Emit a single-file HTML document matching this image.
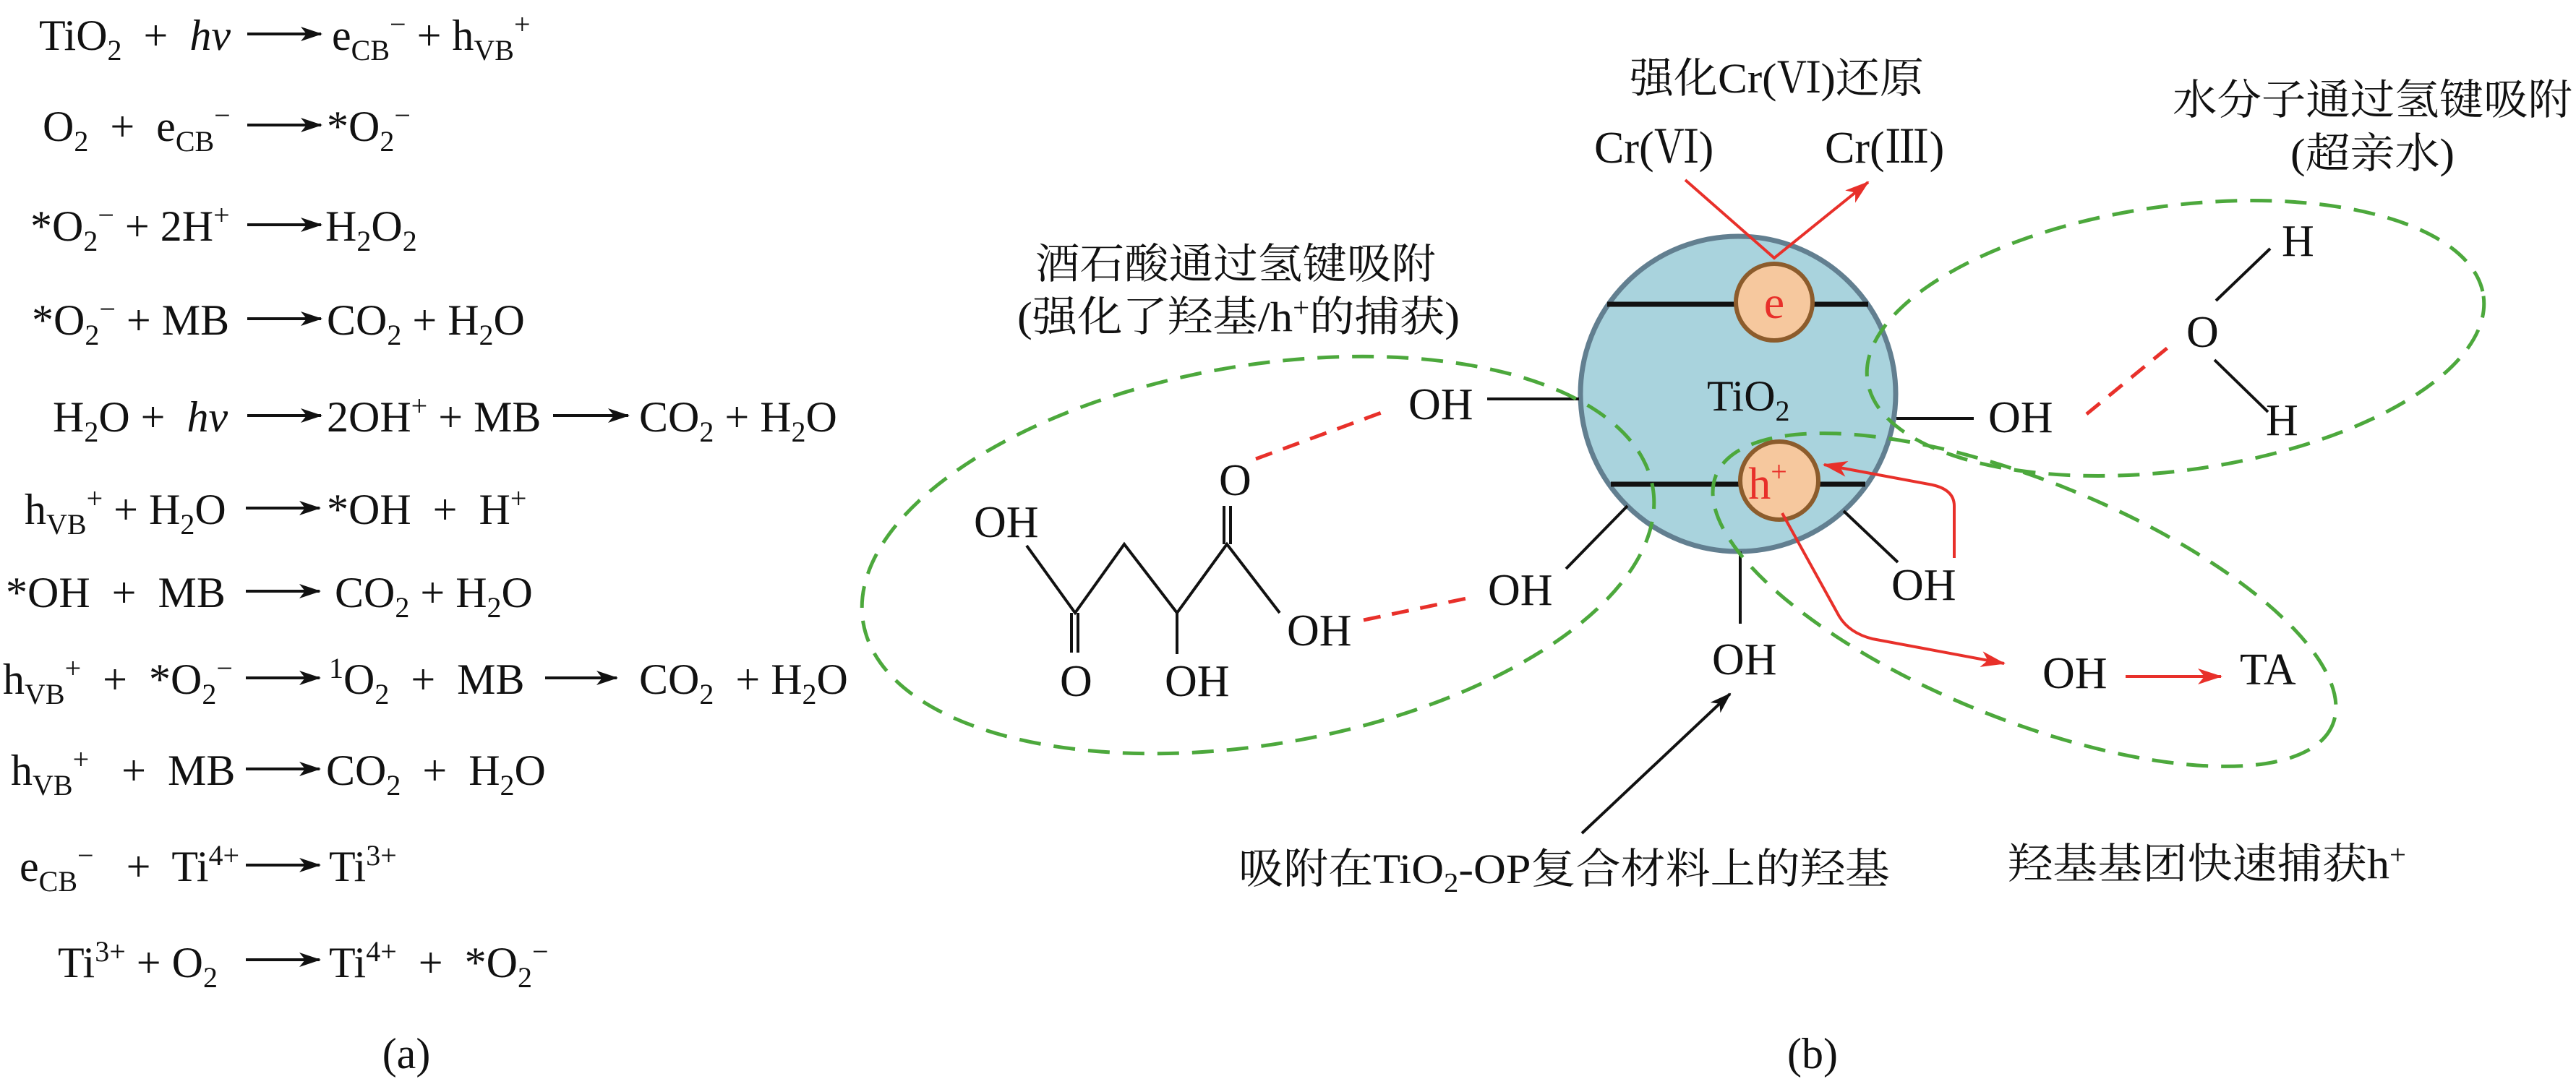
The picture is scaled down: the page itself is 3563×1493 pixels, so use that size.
<!DOCTYPE html>
<html><head><meta charset="utf-8"><style>
html,body{margin:0;padding:0;background:#fff;}
svg{display:block;}
text{font-family:"Liberation Serif","Noto Serif CJK SC",serif;fill:#111;white-space:pre;}
.eq{font-size:60px;}
.cn{font-family:"Liberation Serif","Noto Serif CJK SC",serif;font-size:58px;}
.oh{font-size:62px;}
</style></head><body>
<svg width="3563" height="1493" viewBox="0 0 3563 1493" xmlns="http://www.w3.org/2000/svg" font-family="'Liberation Serif','Noto Serif CJK SC',serif">
<defs>
<marker id="ab" viewBox="0 0 30 20" refX="28" refY="10" markerWidth="30" markerHeight="20" markerUnits="userSpaceOnUse" orient="auto"><path d="M0,0 L30,10 L0,20 L8,10 Z" fill="#111"/></marker>
<marker id="ar" viewBox="0 0 34 22" refX="32" refY="11" markerWidth="34" markerHeight="22" markerUnits="userSpaceOnUse" orient="auto"><path d="M0,0 L34,11 L0,22 L9,11 Z" fill="#e8302a"/></marker>
</defs>

<g class="eq">
<g stroke="#111" stroke-width="4" marker-end="url(#ab)">
<line x1="342" y1="47" x2="444" y2="47"/>
<line x1="342" y1="173" x2="444" y2="173"/>
<line x1="342" y1="311" x2="444" y2="311"/>
<line x1="342" y1="441" x2="444" y2="441"/>
<line x1="342" y1="575" x2="444" y2="575"/>
<line x1="765" y1="575" x2="869" y2="575"/>
<line x1="340" y1="703" x2="442" y2="703"/>
<line x1="340" y1="818" x2="442" y2="818"/>
<line x1="340" y1="938" x2="442" y2="938"/>
<line x1="754" y1="938" x2="853" y2="938"/>
<line x1="340" y1="1064" x2="442" y2="1064"/>
<line x1="340" y1="1197" x2="442" y2="1197"/>
<line x1="340" y1="1328" x2="442" y2="1328"/>
</g>
<text x="54" y="69">TiO<tspan font-size="40" dy="14">2</tspan><tspan dy="-14">  +  </tspan><tspan font-style="italic">hv</tspan></text>
<text x="459" y="69">e<tspan font-size="40" dy="14">CB</tspan><tspan font-size="40" dy="-36">−</tspan><tspan dy="22"> + h</tspan><tspan font-size="40" dy="14">VB</tspan><tspan font-size="40" dy="-36">+</tspan></text>

<text x="59" y="195">O<tspan font-size="40" dy="14">2</tspan><tspan dy="-14">  +  e</tspan><tspan font-size="40" dy="14">CB</tspan><tspan font-size="40" dy="-36">−</tspan></text>
<text x="452" y="195">*O<tspan font-size="40" dy="14">2</tspan><tspan font-size="40" dy="-36">−</tspan></text>

<text x="42" y="333">*O<tspan font-size="40" dy="14">2</tspan><tspan font-size="40" dy="-36">−</tspan><tspan dy="22"> + 2H</tspan><tspan font-size="40" dy="-22">+</tspan></text>
<text x="450" y="333">H<tspan font-size="40" dy="14">2</tspan><tspan dy="-14">O</tspan><tspan font-size="40" dy="14">2</tspan></text>

<text x="44" y="463">*O<tspan font-size="40" dy="14">2</tspan><tspan font-size="40" dy="-36">−</tspan><tspan dy="22"> + MB</tspan></text>
<text x="452" y="463">CO<tspan font-size="40" dy="14">2</tspan><tspan dy="-14"> + H</tspan><tspan font-size="40" dy="14">2</tspan><tspan dy="-14">O</tspan></text>

<text x="73" y="597">H<tspan font-size="40" dy="14">2</tspan><tspan dy="-14">O +  </tspan><tspan font-style="italic">hv</tspan></text>
<text x="452" y="597">2OH<tspan font-size="40" dy="-22">+</tspan><tspan dy="22"> + MB</tspan></text>
<text x="884" y="597">CO<tspan font-size="40" dy="14">2</tspan><tspan dy="-14"> + H</tspan><tspan font-size="40" dy="14">2</tspan><tspan dy="-14">O</tspan></text>

<text x="34" y="725">h<tspan font-size="40" dy="14">VB</tspan><tspan font-size="40" dy="-36">+</tspan><tspan dy="22"> + H</tspan><tspan font-size="40" dy="14">2</tspan><tspan dy="-14">O</tspan></text>
<text x="452" y="725">*OH  +  H<tspan font-size="40" dy="-22">+</tspan></text>

<text x="8" y="840">*OH  +  MB</text>
<text x="463" y="840">CO<tspan font-size="40" dy="14">2</tspan><tspan dy="-14"> + H</tspan><tspan font-size="40" dy="14">2</tspan><tspan dy="-14">O</tspan></text>

<text x="4" y="960">h<tspan font-size="40" dy="14">VB</tspan><tspan font-size="40" dy="-36">+</tspan><tspan dy="22">  +  *O</tspan><tspan font-size="40" dy="14">2</tspan><tspan font-size="40" dy="-36">−</tspan></text>
<text x="455" y="960"><tspan font-size="40" dy="-22">1</tspan><tspan dy="22">O</tspan><tspan font-size="40" dy="14">2</tspan><tspan dy="-14">  +  MB</tspan></text>
<text x="884" y="960">CO<tspan font-size="40" dy="14">2</tspan><tspan dy="-14">  + H</tspan><tspan font-size="40" dy="14">2</tspan><tspan dy="-14">O</tspan></text>

<text x="15" y="1086">h<tspan font-size="40" dy="14">VB</tspan><tspan font-size="40" dy="-36">+</tspan><tspan dy="22">   +  MB</tspan></text>
<text x="451" y="1086">CO<tspan font-size="40" dy="14">2</tspan><tspan dy="-14">  +  H</tspan><tspan font-size="40" dy="14">2</tspan><tspan dy="-14">O</tspan></text>

<text x="27" y="1219">e<tspan font-size="40" dy="14">CB</tspan><tspan font-size="40" dy="-36">−</tspan><tspan dy="22">   +  Ti</tspan><tspan font-size="40" dy="-22">4+</tspan></text>
<text x="455" y="1219">Ti<tspan font-size="40" dy="-22">3+</tspan></text>

<text x="80" y="1352">Ti<tspan font-size="40" dy="-22">3+</tspan><tspan dy="22"> + O</tspan><tspan font-size="40" dy="14">2</tspan></text>
<text x="455" y="1352">Ti<tspan font-size="40" dy="-22">4+</tspan><tspan dy="22">  +  *O</tspan><tspan font-size="40" dy="14">2</tspan><tspan font-size="40" dy="-36">−</tspan></text>

<text x="562" y="1478" text-anchor="middle">(a)</text>
</g>

<circle cx="2404" cy="545" r="218" fill="#a9d3dd" stroke="#627f90" stroke-width="7"/>
<g stroke="#111" stroke-width="7">
<line x1="2223" y1="421" x2="2584" y2="421"/>
<line x1="2228" y1="670" x2="2580" y2="670"/>
</g>
<text x="2361" y="568" font-size="60">TiO<tspan font-size="40" dy="14">2</tspan></text>

<g stroke="#111" stroke-width="4" fill="none">
<line x1="2057" y1="552" x2="2184" y2="552"/>
<line x1="2166" y1="787" x2="2251" y2="700"/>
<line x1="2407" y1="763" x2="2407" y2="863"/>
<line x1="2550" y1="707" x2="2625" y2="778"/>
<line x1="2623" y1="579" x2="2730" y2="579"/>
<line x1="3065" y1="416" x2="3140" y2="344"/>
<line x1="3063" y1="498" x2="3137" y2="570"/>
<polyline points="1420,755 1487,848 1555,753 1628,848 1697,753 1770,848"/>
<line x1="1482" y1="848" x2="1482" y2="903"/>
<line x1="1491" y1="848" x2="1491" y2="903"/>
<line x1="1628" y1="848" x2="1628" y2="905"/>
<line x1="1693" y1="700" x2="1693" y2="753"/>
<line x1="1702" y1="700" x2="1702" y2="753"/>
</g>

<g fill="none" stroke="#4ca83c" stroke-width="5" stroke-dasharray="30 18">
<ellipse cx="1740" cy="768" rx="554" ry="262" transform="rotate(-9.75 1740 768)"/>
<ellipse cx="3009" cy="468" rx="430" ry="183" transform="rotate(-7.8 3009 468)"/>
<ellipse cx="2800" cy="830" rx="460" ry="165" transform="rotate(22 2800 830)"/>
</g>

<circle cx="2454" cy="418" r="53" fill="#f6c89e" stroke="#8c5c2c" stroke-width="6"/>
<circle cx="2461" cy="665" r="54" fill="#f6c89e" stroke="#8c5c2c" stroke-width="6"/>
<text x="2454" y="440" font-size="64" text-anchor="middle" style="fill:#e8302a">e</text>
<text x="2445" y="690" font-size="62" text-anchor="middle" style="fill:#e8302a">h<tspan font-size="40" dy="-24">+</tspan></text>

<g fill="none" stroke="#e8302a" stroke-width="4">
<polyline points="2331,249 2454,357 2584,252" marker-end="url(#ar)"/>
<path d="M2703,772 L2703,700 Q2703,676 2668,670 L2523,643" marker-end="url(#ar)"/>
<path d="M2465,710 L2544,853 Q2558,876 2590,884 L2772,918" marker-end="url(#ar)"/>
<line x1="2940" y1="936" x2="3072" y2="936" marker-end="url(#ar)"/>
</g>
<g stroke="#e8302a" stroke-width="5" stroke-dasharray="24 16">
<line x1="1737" y1="635" x2="1916" y2="569"/>
<line x1="1886" y1="858" x2="2033" y2="827"/>
<line x1="2886" y1="573" x2="3002" y2="478"/>
</g>

<line x1="2188" y1="1153" x2="2393" y2="960" stroke="#111" stroke-width="4" marker-end="url(#ab)"/>

<g class="oh">
<text x="1948" y="580">OH</text>
<text x="2058" y="837">OH</text>
<text x="1780" y="893">OH</text>
<text x="1686" y="685">O</text>
<text x="1347" y="743">OH</text>
<text x="1466" y="963">O</text>
<text x="1611" y="963">OH</text>
<text x="2368" y="933">OH</text>
<text x="2616" y="830">OH</text>
<text x="2750" y="598">OH</text>
<text x="3024" y="480">O</text>
<text x="3156" y="354">H</text>
<text x="3134" y="602">H</text>
<text x="2825" y="952">OH</text>
<text x="3098" y="947">TA</text>
<text x="2205" y="225">Cr(Ⅵ)</text>
<text x="2524" y="225">Cr(Ⅲ)</text>
</g>

<g class="cn">
<text x="2254" y="128" textLength="407" lengthAdjust="spacingAndGlyphs">强化Cr(Ⅵ)还原</text>
<text x="1432" y="385" textLength="554" lengthAdjust="spacingAndGlyphs">酒石酸通过氢键吸附</text>
<text x="1407" y="458" textLength="612" lengthAdjust="spacingAndGlyphs">(强化了羟基/h<tspan font-size="38" dy="-20">+</tspan><tspan dy="20">的捕获)</tspan></text>
<text x="3005" y="158" textLength="553" lengthAdjust="spacingAndGlyphs">水分子通过氢键吸附</text>
<text x="3168" y="232" textLength="227" lengthAdjust="spacingAndGlyphs">(超亲水)</text>
<text x="1713" y="1222" textLength="901" lengthAdjust="spacingAndGlyphs">吸附在TiO<tspan font-size="38" dy="12">2</tspan><tspan dy="-12">-OP复合材料上的羟基</tspan></text>
<text x="2777" y="1215" textLength="551" lengthAdjust="spacingAndGlyphs">羟基基团快速捕获h<tspan font-size="38" dy="-20">+</tspan></text>
</g>
<text x="2507" y="1478" font-size="60" text-anchor="middle">(b)</text>
</svg>
</body></html>
